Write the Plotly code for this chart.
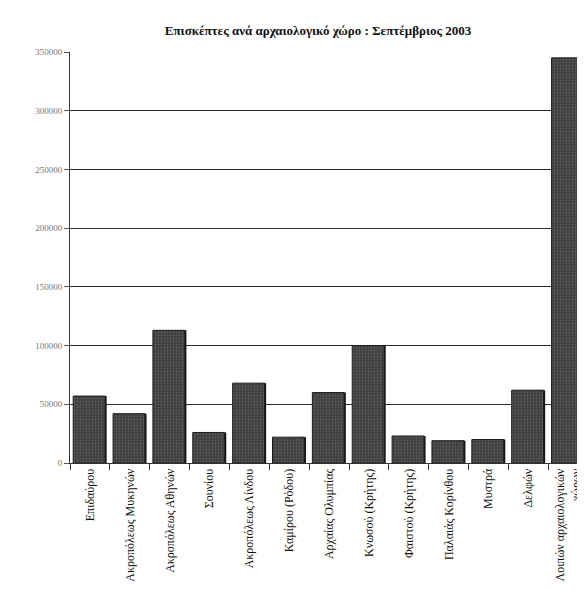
import plotly.graph_objects as go

sites = [
    "Επιδαύρου",
    "Ακροπόλεως Μυκηνών",
    "Ακροπόλεως Αθηνών",
    "Σουνίου",
    "Ακροπόλεως Λίνδου",
    "Καμίρου (Ρόδου)",
    "Αρχαίας Ολυμπίας",
    "Κνωσού (Κρήτης)",
    "Φαιστού (Κρήτης)",
    "Παλαιάς Κορίνθου",
    "Μυστρά",
    "Δελφών",
    "Λοιπών αρχαιολογικών<br>χώρων",
]
visitors = [57000, 42000, 113000, 26000, 68000, 22000, 60000, 100000,
            23000, 19000, 20000, 62000, 345000]
y_ticks = [0, 50000, 100000, 150000, 200000, 250000, 300000, 350000]

serif = "Liberation Serif, Times New Roman, serif"

fig = go.Figure()

# dark side face of each bar (fake 3D depth)
fig.add_trace(go.Bar(
    x=sites, y=visitors,
    width=0.2, offset=0.22,
    marker=dict(color="#141414", line=dict(width=0)),
    hoverinfo="skip",
))

# front face
fig.add_trace(go.Bar(
    x=sites, y=visitors,
    width=0.8, offset=-0.42,
    marker=dict(
        color="#4a4a4a",
        line=dict(color="#1e1e1e", width=1),
        pattern=dict(shape=".", fgcolor="#7a7a7a", bgcolor="#3e3e3e",
                     size=3, solidity=0.3),
    ),
))

fig.update_layout(
    width=585,
    height=589,
    barmode="overlay",
    showlegend=False,
    plot_bgcolor="white",
    paper_bgcolor="white",
    margin=dict(l=62, r=0, t=44, b=134),
    title=dict(
        text="<b>Επισκέπτες ανά αρχαιολογικό χώρο : Σεπτέμβριος 2003</b>",
        x=0.53, xanchor="center", y=0.962, yanchor="middle",
        font=dict(family=serif, size=13, color="#111111"),
    ),
    font=dict(family=serif, color="#222222"),
)

fig.update_xaxes(
    range=[-0.5, 12.62],
    tickangle=-90,
    tickfont=dict(size=12, family=serif, color="#111111"),
    ticks="outside", ticklen=6, tickcolor="#333333",
    tickson="boundaries",
    showline=True, linecolor="#333333", linewidth=1,
    showgrid=False,
)

fig.update_yaxes(
    range=[0, 350000],
    tickvals=y_ticks,
    ticktext=[str(v) for v in y_ticks],
    tickfont=dict(size=9, family=serif, color="#777777"),
    ticks="outside", ticklen=5, tickcolor="#555555",
    showline=True, linecolor="#333333", linewidth=1,
    showgrid=True, gridcolor="#2a2a2a", gridwidth=1,
    zeroline=False,
)

fig.write_html("out.html")
